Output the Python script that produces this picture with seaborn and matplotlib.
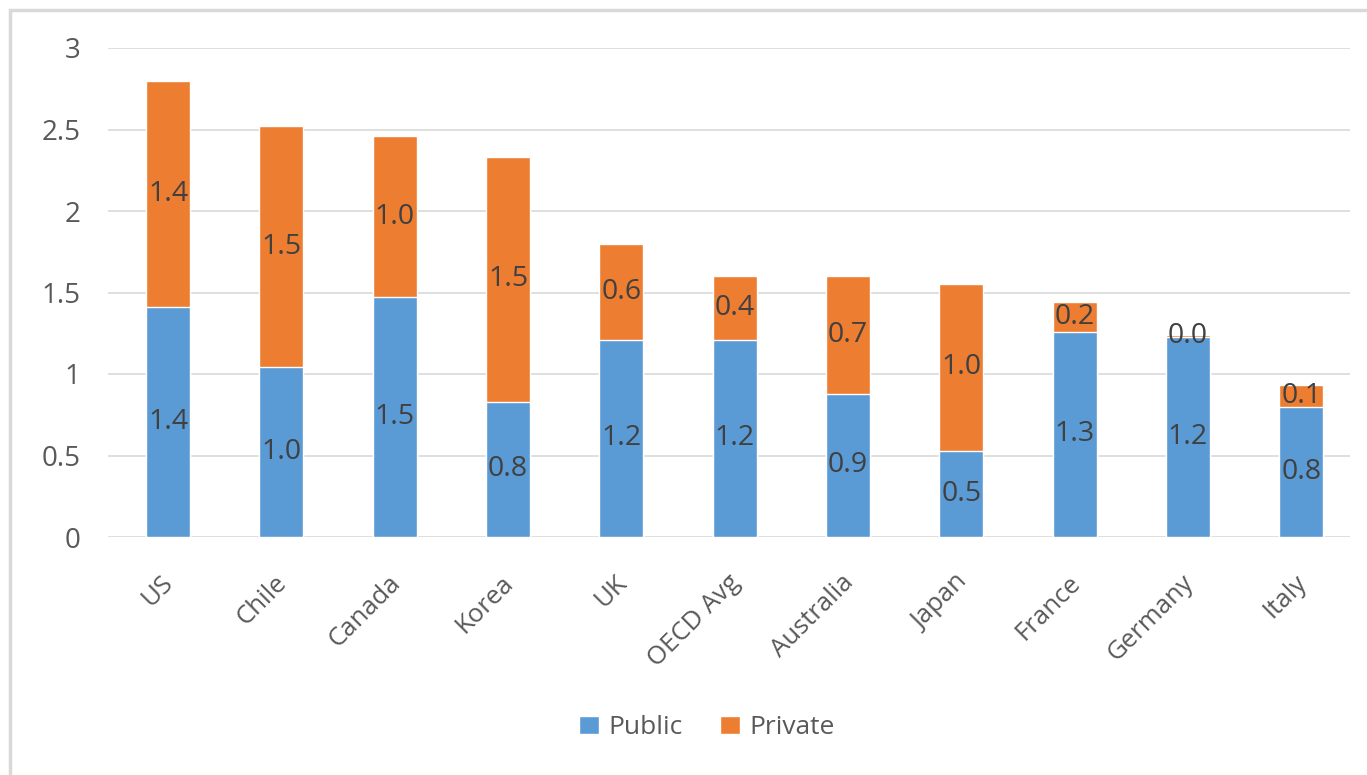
import numpy as np
import pandas as pd
import matplotlib
matplotlib.use('Agg')
import matplotlib.pyplot as plt
import matplotlib.transforms as mtransforms
import seaborn as sb
from matplotlib.patches import Rectangle, Patch

# Data
countries = ['US', 'Chile', 'Canada', 'Korea', 'UK', 'OECD Avg', 'Australia',
             'Japan', 'France', 'Germany', 'Italy']
public = [1.41, 1.04, 1.47, 0.83, 1.21, 1.21, 0.88, 0.53, 1.26, 1.23, 0.80]
private = [1.39, 1.48, 0.99, 1.50, 0.59, 0.39, 0.72, 1.02, 0.18, 0.01, 0.13]
yticks = [0, 0.5, 1, 1.5, 2, 2.5, 3]
ytick_labels = ['0', '0.5', '1', '1.5', '2', '2.5', '3']

blue = '#5B9BD5'
orange = '#ED7D31'
grey_text = '#595959'

df = pd.DataFrame({'country': countries, 'public': public, 'private': private})
df['total'] = df['public'] + df['private']

sb.set_style('white')
plt.rcParams['font.family'] = ['Open Sans', 'DejaVu Sans']

fig = plt.figure(figsize=(13.67, 7.75), dpi=100)
ax = fig.add_axes([108 / 1367, 1 - 537 / 775, (1350 - 108) / 1367, (537 - 48) / 775])

# stacked bars: totals in orange, public drawn over them in blue
sb.barplot(data=df, x='country', y='total', color=orange, width=0.39,
           saturation=1, ax=ax, zorder=2)
sb.barplot(data=df, x='country', y='public', color=blue, width=0.39,
           saturation=1, ax=ax, zorder=3)

# segment labels, centred in each segment
for i, row in df.iterrows():
    ax.text(i, row['public'] / 2, f"{row['public']:.1f}", ha='center', va='center',
            fontsize=20.5, color='#404040', zorder=4)
    ax.text(i, row['public'] + row['private'] / 2, f"{row['private']:.1f}",
            ha='center', va='center', fontsize=20.5, color='#404040', zorder=4)

ax.set_ylim(0, 3)
ax.set_xlim(-0.53, 10.43)
ax.set_yticks(yticks)
ax.set_yticklabels(ytick_labels, fontsize=20, color=grey_text)
ax.tick_params(axis='y', length=0, pad=20)
ax.tick_params(axis='x', length=0, pad=24)
ax.set_xticks(range(len(countries)))
ax.set_xticklabels(countries, rotation=45, ha='right', rotation_mode='anchor',
                   fontsize=18.5, color=grey_text)
shift = mtransforms.ScaledTranslation(-7 / 100, 0, fig.dpi_scale_trans)
for lbl in ax.get_xticklabels():
    lbl.set_transform(lbl.get_transform() + shift)
ax.set_xlabel('')
ax.set_ylabel('')
ax.yaxis.grid(True, color='#D9D9D9', linewidth=1.2)
ax.set_axisbelow(True)
for s in ax.spines.values():
    s.set_visible(False)

handles = [Patch(facecolor=blue, label='Public'), Patch(facecolor=orange, label='Private')]
fig.legend(handles=handles, loc='center', bbox_to_anchor=(707 / 1367, 1 - 728 / 775),
           ncol=2, frameon=False, fontsize=19, handlelength=0.76, handleheight=0.68,
           handletextpad=0.34, columnspacing=1.44, labelcolor=grey_text)

# light chart frame
fig.patches.append(Rectangle((10 / 1367, -0.05), 1.2, 1 - 10 / 775 + 0.05,
                             transform=fig.transFigure, fill=False,
                             edgecolor='#D9D9D9', linewidth=2.5))

fig.savefig('out.png', dpi=100)
